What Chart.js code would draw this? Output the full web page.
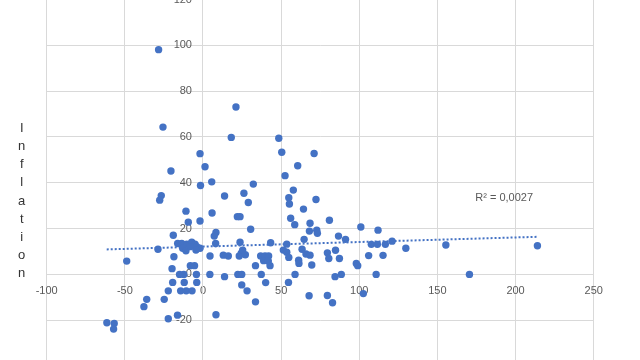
<!DOCTYPE html>
<html><head><meta charset="utf-8">
<script src="https://cdn.jsdelivr.net/npm/chart.js@4"></script>
<style>
html,body{margin:0;padding:0;background:#fff;overflow:hidden;width:640px;height:360px}
#wrap{position:absolute;left:0;top:-20px;width:640px;height:400px}
</style>
</head><body>
<div id="wrap"><canvas id="c" width="640" height="400"></canvas></div>
<script>
// ---- data ----
const xValues = [
 -28.4,-25.6,21.1,18.1,48.5,50.4,71.1,-1.9,1.3,60.6,52.5,-20.5,5.6,-1.6,32.2,-26.7,-27.7,13.8,26.2,29,
 54.9,57.8,55.3,72.3,64.3,-10.9,5.8,-1.9,-9.4,22,23.7,56.1,58.7,68.5,30.5,-19,8.3,7.2,68.1,72.8,
 73.2,64.7,-28.8,23.7,43.3,53.6,8.1,51.4,53.6,63.4,65.9,68.5,13,16.2,4.5,24.5,23.2,27.1,25.4,36.9,
 39.7,42,38.8,41.8,61.2,61.4,69.6,54.9,-18.6,-48.8,33.6,42.9,-8.1,-5.4,-19.8,-15,-12.3,-4.2,4.4,13.8,
 22.3,24.8,37.3,58.9,-19.4,-12,-4,24.8,40.1,54.7,-22.2,-14.3,-10.7,-7,28.2,-24.8,-36,-37.8,33.6,67.9,
 -16.3,-22.2,8.3,-61.5,-56.8,-57.2,-16.2,-13.6,-10.4,-7.2,-5.1,-13,-10.9,-8.1,-4,-1.9,-4.5,
 80.9,101,112,86.7,91.2,107.7,111.6,116.7,121,129.8,155.4,214,79.6,84.8,80.5,87.3,106,115.2,98.1,99,
 84.5,88.5,110.8,170.5,79.6,82.9,102.6
];
const yValues = [
 98.1,64.3,73.1,59.8,59.4,53.3,52.8,52.7,47,47.4,43.1,45.1,40.4,38.8,39.4,34.4,32.4,34.2,35.4,31.4,
 33.5,36.8,30.7,32.7,28.5,27.6,26.8,23.3,22.8,25.2,25.2,24.5,21.7,22.3,19.7,17.1,18.3,16.7,18.9,19.3,
 17.9,15.3,11,14,13.8,13.2,13.5,10.6,9.7,11,8.9,8.4,8.4,8,8,9.2,8,8.6,10.6,8,
 8,8,6,5.8,6.2,4.8,4.1,7.4,7.7,5.8,3.8,3.8,3.8,3.8,2.5,0,0,0,0,-1,
 0,0,0,0,-3.5,-3.5,-3.5,-4.6,-3.6,-3.5,-7.2,-7.2,-7.2,-7.2,-7.2,-10.9,-10.9,-14.1,-12,-9.3,
 -17.8,-19.4,-17.6,-21.1,-21.4,-23.9,13.5,13.5,13.2,14,13.2,11.4,10.3,12.1,12.1,11.4,10.6,
 23.6,20.7,19.3,16.7,15.3,13.1,13.1,13.1,14.5,11.4,12.8,12.5,9.4,10.5,6.9,6.9,8.2,8.3,4.8,3.8,
 -1,0,0,0,-9.2,-12.4,-8.4
];
// dotted linear trend line, ends
const trendX = [-61.6, 214];
const trendY = [10.9, 16.4];
// axis ticks (the -40 line lies below the visible area)
const xTicks = [-100, -50, 0, 50, 100, 150, 200, 250];
const yTicks = [-20, 0, 20, 40, 60, 80, 100, 120];
const yMin = -40;
const yTitle = 'Inflation';
const r2Label = 'R² = 0,0027';

// ---- chart ----
const BLUE = '#4472C4';
const GRID = '#d9d9d9';
const TICK = '#595959';
const FONT = 'Liberation Sans';

const pts = xValues.map((x, i) => ({x: x, y: yValues[i]}));
const trend = trendX.map((x, i) => ({x: x, y: trendY[i]}));

const extras = {
  id: 'extras',
  afterDraw(chart) {
    const ctx = chart.ctx, a = chart.chartArea;
    ctx.save();
    ctx.font = '13px "' + FONT + '"';
    ctx.fillStyle = '#333333';
    ctx.textAlign = 'center';
    ctx.textBaseline = 'middle';
    const letters = Array.from(yTitle);
    const step = 18.1;
    const cy = a.top + 201.5;
    const x0 = a.left - 25;
    letters.forEach((ch, i) => {
      ctx.fillText(ch, x0, cy + (i - (letters.length - 1) / 2) * step);
    });
    ctx.font = '11px "' + FONT + '"';
    ctx.fillStyle = TICK;
    ctx.fillText(r2Label, chart.scales.x.getPixelForValue(192.7), chart.scales.y.getPixelForValue(33.2));
    ctx.restore();
  }
};

new Chart(document.getElementById('c'), {
  type: 'scatter',
  data: {
    datasets: [
      {
        label: 'Inflation',
        data: pts,
        backgroundColor: BLUE,
        borderColor: BLUE,
        borderWidth: 0,
        pointRadius: 3.7,
        pointHoverRadius: 3.7
      },
      {
        label: 'Trend',
        type: 'line',
        data: trend,
        showLine: true,
        borderColor: BLUE,
        borderWidth: 2,
        borderDash: [2, 2],
        pointRadius: 0,
        fill: false
      }
    ]
  },
  options: {
    responsive: false,
    animation: false,
    devicePixelRatio: 1,
    layout: {padding: {left: 46.7, right: 46.3, top: 19.5, bottom: 14}},
    plugins: {legend: {display: false}, tooltip: {enabled: false}},
    scales: {
      x: {
        type: 'linear',
        min: xTicks[0],
        max: xTicks[xTicks.length - 1],
        position: {y: 0},
        afterFit(s) { s.height = 0; },
        afterBuildTicks(s) { s.ticks = xTicks.map(v => ({value: v})); },
        ticks: {color: TICK, font: {family: FONT, size: 11}, padding: 10, maxRotation: 0},
        grid: {color: GRID, lineWidth: 1, drawTicks: false},
        border: {color: GRID, width: 1}
      },
      y: {
        type: 'linear',
        min: yMin,
        max: yTicks[yTicks.length - 1],
        position: {x: 0},
        afterFit(s) { s.width = 0; },
        afterBuildTicks(s) { s.ticks = yTicks.map(v => ({value: v})); },
        afterUpdate(s) {
          if (s.__wrapped) return;
          s.__wrapped = true;
          const orig = s._computeLabelItems.bind(s);
          s._computeLabelItems = function (ca) {
            const items = orig(ca);
            items.forEach(it => {
              if (it.options && it.options.translation) it.options.translation[0] -= 11;
            });
            return items;
          };
        },
        ticks: {color: TICK, font: {family: FONT, size: 11}, padding: 0},
        grid: {color: GRID, lineWidth: 1, drawTicks: false},
        border: {color: GRID, width: 1}
      }
    }
  },
  plugins: [extras]
});
</script>
</body></html>
